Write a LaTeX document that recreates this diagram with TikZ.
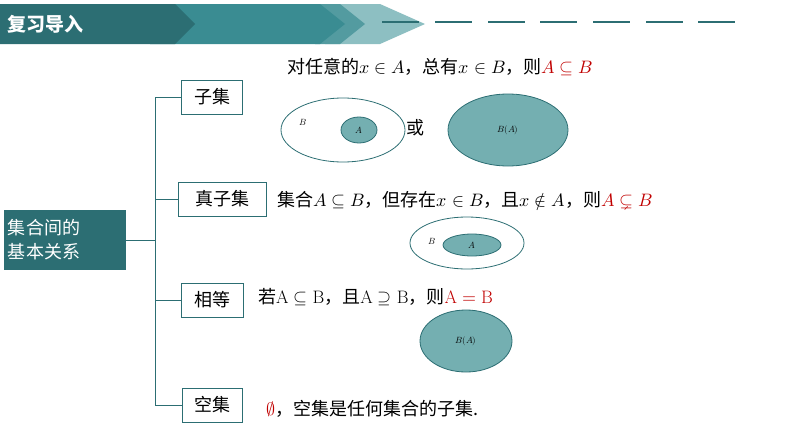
\documentclass[tikz,border=0pt]{standalone}
\usepackage{fontspec}
\usepackage{unicode-math}
\setmathfont{Latin Modern Math}
\newfontfamily\cjk{Noto Sans CJK SC}
\usetikzlibrary{shapes.geometric}
\definecolor{tealdark}{HTML}{2C6E73}
\definecolor{tealmid}{HTML}{3A8C92}
\definecolor{teallight}{HTML}{8DBFC2}
\definecolor{ellfill}{HTML}{74AFB1}
\definecolor{redm}{HTML}{C00000}
\tikzset{
  lbl/.style={draw=tealdark,line width=0.8pt,fill=white,font=\cjk\fontsize{18}{18}\selectfont,inner sep=2pt,minimum height=34pt},
  ell/.style={ellipse,draw=tealdark,line width=0.8pt},
  txt/.style={font=\cjk\fontsize{18}{20}\selectfont,anchor=west,inner sep=0pt},
  conn/.style={draw=tealdark,line width=0.8pt}
}
\begin{document}
\begin{tikzpicture}[x=1pt,y=-1pt]
\useasboundingbox (0,0) rectangle (794,447);
% header
\fill[teallight] (325,4) -- (380,4) -- (425,24) -- (380,44) -- (325,44) -- cycle;
\fill[tealmid!70!teallight] (315,4) -- (340,4) -- (365,24) -- (340,44) -- (315,44) -- cycle;
\fill[tealmid] (150,4) -- (320,4) -- (345,24) -- (320,44) -- (150,44) -- cycle;
\fill[tealdark] (0,4) -- (175,4) -- (195,24) -- (175,44) -- (0,44) -- cycle;
\node[font=\cjk\bfseries\fontsize{19}{19}\selectfont,text=white,anchor=west] (hdr) at (4,24) {复习导入};
\foreach \a in {382,435,488,540,593,646,698}{
  \draw[tealdark,line width=1.2pt] (\a,22) -- (\a+37,22);
}
% main box
\node[fill=tealdark,text=white,font=\cjk\fontsize{18}{24}\selectfont,align=left,minimum width=122pt,minimum height=60pt,inner sep=4pt,text width=114pt] (root) at (65,240) {集合间的\\基本关系};
\coordinate (top) at (155,97);
\coordinate (bot) at (155,405);
\coordinate (mid) at (155,240);
\node[lbl,minimum width=61pt] (s1) at (212,97) {子集};
\node[lbl,minimum width=88pt] (s2) at (222,199) {真子集};
\node[lbl,minimum width=62pt] (s3) at (212,300) {相等};
\node[lbl,minimum width=60pt] (s4) at (212,405) {空集};
\draw[conn] (root.east) -- (mid);
\draw[conn] (s1.west) -- (top) -- (bot) -- (s4.west);
\draw[conn] (s2.west) -- (s2.west -| top);
\draw[conn] (s3.west) -- (s3.west -| top);
% texts
\node[txt,anchor=center] (t1) at (440,67) {对任意的$x\in A$，总有$x\in B$，则\textcolor{redm}{$A\subseteq B$}};
\node[txt] (t2) at (277,201) {集合$A\subseteq B$，但存在$x\in B$，且$x\notin A$，则\textcolor{redm}{$A\subsetneq B$}};
\node[txt] (t3) at (258,297) {若$\mathrm{A}\subseteq\mathrm{B}$，且$\mathrm{A}\supseteq\mathrm{B}$，则\textcolor{redm}{$\mathrm{A}=\mathrm{B}$}};
\node[txt] (t4) at (266,409) {\textcolor{redm}{$\emptyset$}，空集是任何集合的子集.};
% ellipses
\node[ell,minimum width=124pt,minimum height=64pt] (e1) at (343,130) {};
\node[ell,fill=ellfill,minimum width=36pt,minimum height=26pt,font=\small] (e1a) at (359,130) {$A$};
\node[font=\small] (e1b) at (303,122) {$B$};
\node[font=\cjk\fontsize{18}{18}\selectfont] (or) at (415,128) {或};
\node[ell,fill=ellfill,minimum width=120pt,minimum height=72pt,font=\small] (e2) at (508,130) {$B(A)$};
\node[ell,minimum width=114pt,minimum height=52pt] (e3) at (467,243) {};
\node[ell,fill=ellfill,minimum width=58pt,minimum height=22pt,font=\small] (e3a) at (472,245) {$A$};
\node[font=\small] (e3b) at (432,241) {$B$};
\node[ell,fill=ellfill,minimum width=92pt,minimum height=62pt,font=\small] (e4) at (466,341) {$B(A)$};
\end{tikzpicture}
\end{document}
